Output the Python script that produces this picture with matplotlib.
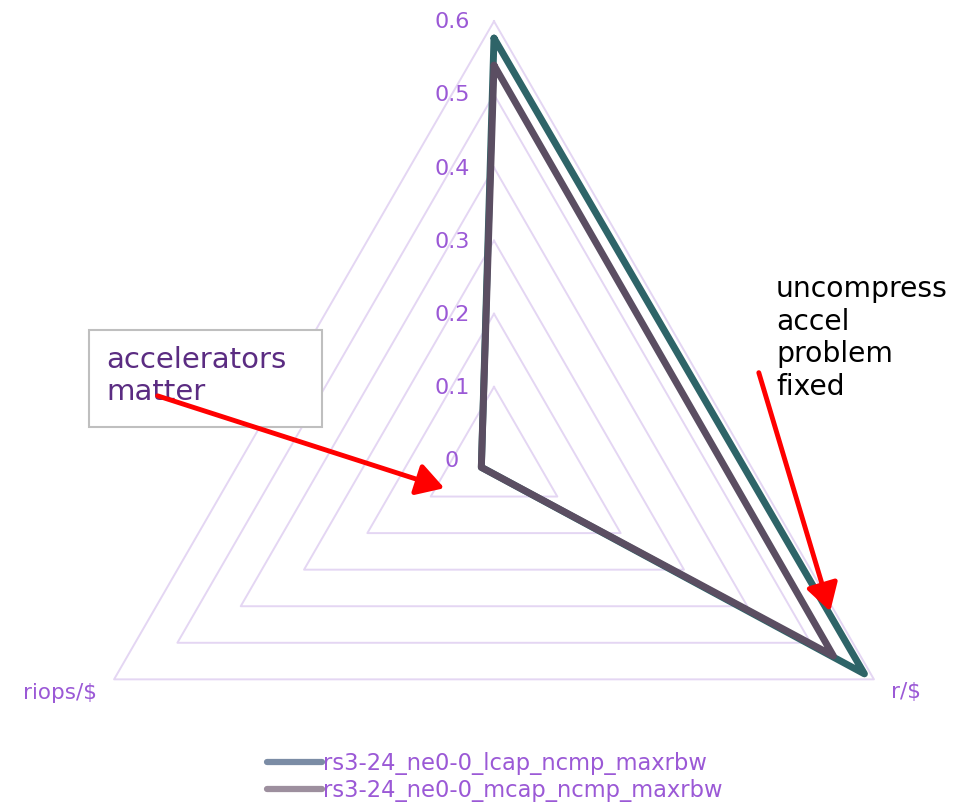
import numpy as np
import matplotlib
matplotlib.use("Agg")
import matplotlib.pyplot as plt
from matplotlib.lines import Line2D
from matplotlib.patches import FancyBboxPatch, FancyArrowPatch

# Radar axes (clockwise from top) and values for each configuration
axes_labels = ["", "r/$", "riops/$"]
series_names = ["rs3-24_ne0-0_lcap_ncmp_maxrbw", "rs3-24_ne0-0_mcap_ncmp_maxrbw"]
lcap_values = [0.577, 0.585, 0.02]
mcap_values = [0.540, 0.536, 0.02]
rticks = [0, 0.1, 0.2, 0.3, 0.4, 0.5, 0.6]
rtick_labels = ["0", "0.1", "0.2", "0.3", "0.4", "0.5", "0.6"]

line_colors = ["#2E6468", "#5B4E62"]
legend_colors = ["#7B8CA5", "#9D8F9E"]
grid_color = "#E4D6F3"
label_color = "#9B59D6"
font = ["DejaVu Sans"]

W, H = 966, 802
fig = plt.figure(figsize=(W / 100, H / 100), dpi=100)

# polar axes placed so the 0.6 ring has radius ~439 px around (494, 460)
R = 438.7
cx, cy = 494, 460
ax = fig.add_axes([(cx - R) / W, (H - cy - R) / H, 2 * R / W, 2 * R / H],
                  projection="polar")
ax.set_theta_offset(np.pi / 2)
ax.set_theta_direction(-1)
ax.set_ylim(0, 0.6)
ax.grid(False)
ax.set_xticks([])
ax.set_yticks([])
ax.spines["polar"].set_visible(False)
ax.patch.set_visible(False)

n = len(axes_labels)
theta = np.arange(n) * 2 * np.pi / n
theta_closed = np.append(theta, theta[0])

# triangular gridlines
for r in rticks[1:]:
    ax.plot(theta_closed, [r] * (n + 1), color=grid_color, lw=1.4, zorder=1,
            clip_on=False)

# radial tick labels beside the top axis
for r, lab in zip(rticks, rtick_labels):
    ax.annotate(lab, xy=(0, r), xytext=(-42, -1), textcoords="offset pixels",
                ha="center", va="center", color=label_color, fontsize=16,
                family=font, annotation_clip=False)

# category labels
offsets = {"r/$": (32, -13), "riops/$": (-54, -14)}
for t, lab in zip(theta, axes_labels):
    if lab:
        ax.annotate(lab, xy=(t, 0.6), xytext=offsets[lab],
                    textcoords="offset pixels", ha="center", va="center",
                    color=label_color, fontsize=15.5, family=font,
                    annotation_clip=False)

# data polygons
for vals, col in zip([lcap_values, mcap_values], line_colors):
    v = np.append(vals, vals[0])
    ax.plot(theta_closed, v, color=col, lw=5, solid_joinstyle="round",
            solid_capstyle="round", zorder=3, clip_on=False)

# legend
handles = [Line2D([], [], color=c, lw=4.5, solid_capstyle="round")
           for c in legend_colors]
leg = fig.legend(handles, series_names, loc="lower center",
                 bbox_to_anchor=(0.512, -0.025), frameon=False, ncol=1,
                 handlelength=2.45, handletextpad=0.05, labelspacing=0.15,
                 prop={"family": font, "size": 16.3})
for t in leg.get_texts():
    t.set_color(label_color)


def px(x, y):
    return (x / W, 1 - y / H)


# "accelerators matter" callout
box = FancyBboxPatch(px(89, 427), 233 / W, 97 / H, boxstyle="square,pad=0",
                     transform=fig.transFigure, fill=True, facecolor="white",
                     edgecolor="#BFBFBF", lw=1.5, zorder=5)
fig.add_artist(box)
fig.text(*px(106, 376), "accelerators\nmatter", ha="left", va="center",
         color="#5B2C82", fontsize=21, family=font, linespacing=1.2,
         zorder=6)
fig.add_artist(FancyArrowPatch(
    px(155, 395), px(447, 489), transform=fig.transFigure,
    arrowstyle="-|>,head_length=11,head_width=6.5", color="red", lw=3.5,
    mutation_scale=1.5, zorder=7))

# "uncompress accel problem fixed" note
fig.text(*px(776, 338), "uncompress\naccel\nproblem\nfixed", ha="left",
         va="center", color="black", fontsize=20.3, family=font,
         linespacing=1.22)
fig.add_artist(FancyArrowPatch(
    px(758, 370), px(831, 614), transform=fig.transFigure,
    arrowstyle="-|>,head_length=11,head_width=6.5", color="red", lw=3.5,
    mutation_scale=1.5, zorder=7))

fig.savefig("out.png", dpi=100)
